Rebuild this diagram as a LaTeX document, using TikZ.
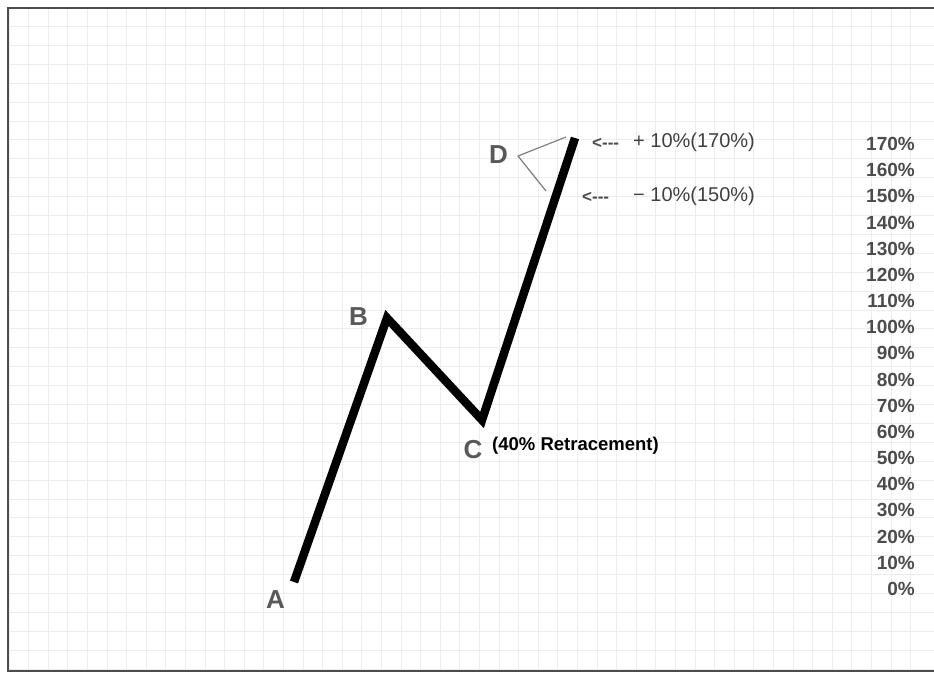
\documentclass[tikz,border=0pt]{standalone}
\usepackage{fontspec}
\setmainfont{Liberation Sans}
\usetikzlibrary{positioning}

\begin{document}
\begin{tikzpicture}[x=1pt,y=-1pt,
    gridline/.style={black!7,line width=0.8pt},
    frame/.style={black!70,line width=2.5pt},
    wave/.style={line width=8.5pt,line join=miter,miter limit=10},
    brace/.style={black!50,line width=1.2pt},
    letter/.style={font=\fontsize{26}{26}\selectfont\bfseries,text=black!65,inner sep=0pt},
    pct/.style={font=\fontsize{19}{19}\selectfont\bfseries,text=black!70,anchor=east,inner sep=0pt},
    note/.style={font=\fontsize{20}{20}\selectfont,text=black!75,anchor=west,inner sep=0pt},
    tip/.style={font=\fontsize{17}{17}\selectfont\bfseries,text=black!70,anchor=west,inner sep=0pt},
  ]
  \useasboundingbox[fill=white] (0,0) rectangle (934,675);
  \foreach \gx in {9,28.6,...,925} \draw[gridline] (\gx,8) -- (\gx,671);
  \foreach \gy in {7.5,26.4,...,671} \draw[gridline] (8,\gy) -- (934,\gy);
  \draw[frame] (934,8) -- (8,8) -- (8,671) -- (934,671);

  \coordinate (a) at (294,582);
  \coordinate (b) at (387,318);
  \coordinate (c) at (482,420);
  \coordinate (d) at (575,138);
  \draw[wave] (a) -- (b) -- (c) -- (d);

  \node[letter] (la) at (275.5,599.5) {A};
  \node[letter] (lb) at (358.5,316.5) {B};
  \node[letter] (lc) at (473,449.5) {C};
  \node[letter] (ld) at (498.5,155) {D};
  \node[font=\fontsize{18.5}{18.5}\selectfont\bfseries,anchor=west,inner sep=0pt] (ret) at (492,446) {(40\% Retracement)};

  \coordinate (dv) at (518,156);
  \coordinate (dt) at (566,137);
  \coordinate (db) at (546,191);
  \draw[brace] (dt) -- (dv) -- (db);

  \node[tip] (tu) at (592,143) {<-{}-{}-};
  \node[note] (nu) at (633,142) {+ 10\%(170\%)};
  \node[tip] (tl) at (582,197) {<-{}-{}-};
  \node[note] (nl) at (633,196) {− 10\%(150\%)};

  \foreach \p [evaluate=\p as \v using int(10*\p)] in {0,...,17}
    \node[pct] at (915,{589-26.18*\p}) {\v\%};
\end{tikzpicture}
\end{document}
